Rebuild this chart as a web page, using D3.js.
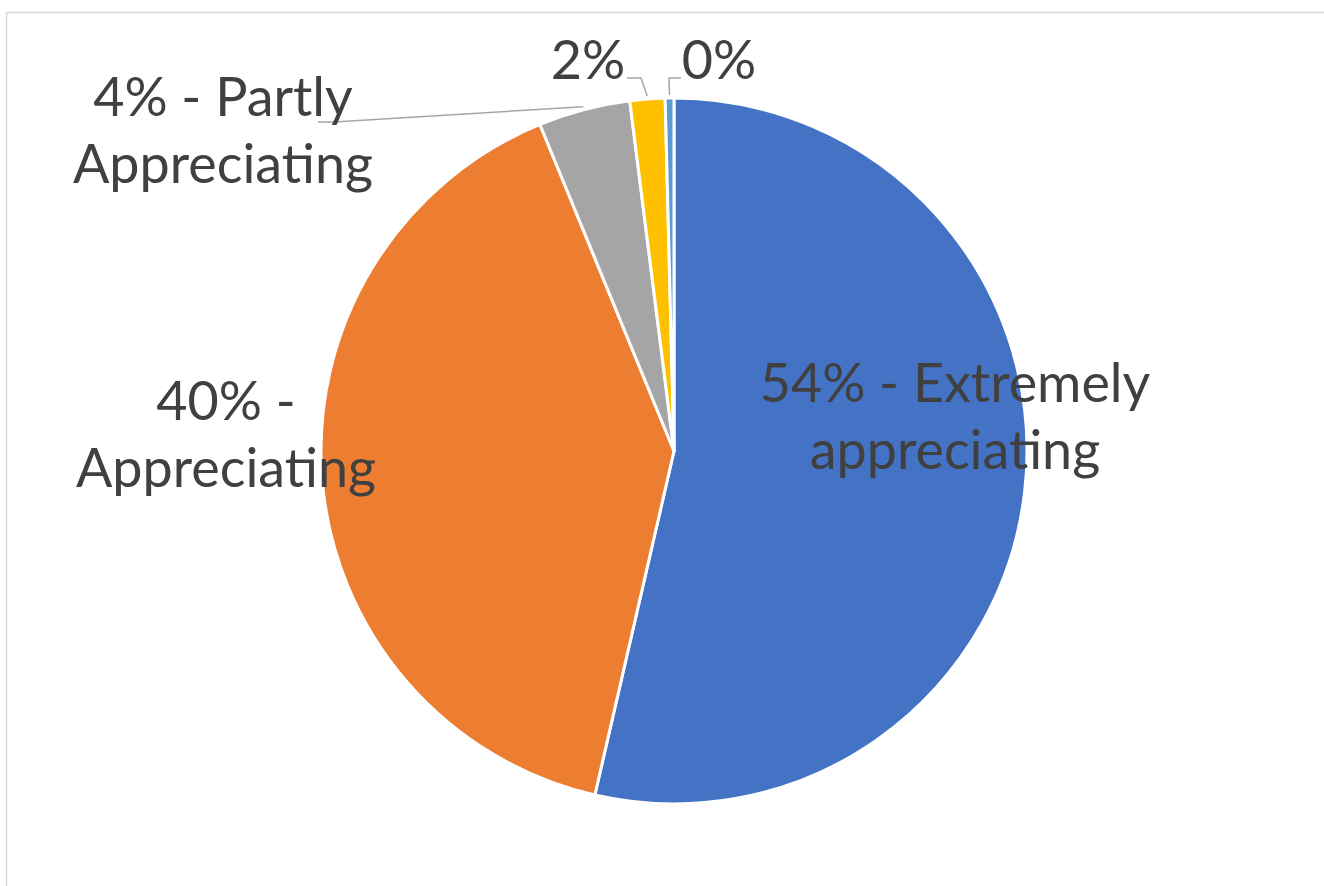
<!DOCTYPE html>
<html>
<head>
<meta charset="utf-8">
<script src="https://cdn.jsdelivr.net/npm/d3@7"></script>
<style>
  html, body { margin: 0; padding: 0; background: #ffffff; }
  svg { display: block; }
</style>
</head>
<body>
<svg id="chart" width="1324" height="886"></svg>
<script>
// ---- data ----
const categories = ["Extremely appreciating", "Appreciating", "Partly Appreciating", "Neutral", "Not appreciating"];
const values = [53.6, 40.2, 4.2, 1.6, 0.4];
const percentLabels = ["54%", "40%", "4%", "2%", "0%"];
const labelLines = [
  ["54% - Extremely", "appreciating"],
  ["40% -", "Appreciating"],
  ["4% - Partly", "Appreciating"],
  ["2%"],
  ["0%"]
];
const colors = ["#4472C4", "#ED7D31", "#A5A5A5", "#FFC000", "#5B9BD5"];

// ---- layout ----
const W = 1324, H = 886;
const cx = 674, cy = 451, R = 353;
const fontFamily = "Lato, 'Open Sans', sans-serif";
const lineGap = 67;
// label anchor (center x, first baseline) per slice
const labelAnchors = [
  { x: 955, y: 402 },
  { x: 226, y: 420 },
  { x: 223, y: 116 },
  { x: 588, y: 79 },
  { x: 719, y: 79 }
];
// leader line start points on the label side (null = no leader)
const leaderStarts = [
  null,
  null,
  [[318, 122], [334, 122]],
  [[627, 78], [641, 78]],
  [[681, 78], [669, 78]]
];

const svg = d3.select("#chart");

// chart border
svg.append("rect")
  .attr("x", 6.5).attr("y", 12.5)
  .attr("width", W + 20).attr("height", H + 20)
  .attr("fill", "#ffffff")
  .attr("stroke", "#d9d9d9")
  .attr("stroke-width", 1.5);

const pie = d3.pie().sort(null).value(d => d);
const arcs = pie(values);
const arc = d3.arc().innerRadius(0).outerRadius(R);

const g = svg.append("g").attr("transform", `translate(${cx},${cy})`);
g.selectAll("path.slice")
  .data(arcs)
  .enter().append("path")
  .attr("class", "slice")
  .attr("d", arc)
  .attr("fill", (d, i) => colors[i])
  .attr("stroke", "#ffffff")
  .attr("stroke-width", 3)
  .attr("stroke-linejoin", "round");

// leader lines
const leaderArc = d3.arc().innerRadius(R + 3).outerRadius(R + 3);
arcs.forEach((d, i) => {
  if (!leaderStarts[i]) return;
  const c = leaderArc.centroid(d);
  const pts = leaderStarts[i].concat([[c[0] + cx, c[1] + cy]]);
  svg.append("path")
    .attr("d", d3.line()(pts))
    .attr("fill", "none")
    .attr("stroke", "#a6a6a6")
    .attr("stroke-width", 1.5);
});

// fit font size so that "Appreciating" is ~300px wide
const probe = svg.append("text").attr("font-family", fontFamily).attr("font-size", 100).text("Appreciating");
const probeW = probe.node().getComputedTextLength();
probe.remove();
const fontSize = 100 * 300 / probeW;

// labels
const labels = svg.append("g").attr("font-family", fontFamily).attr("font-size", fontSize).attr("fill", "#404040");
labelLines.forEach((lines, i) => {
  const t = labels.append("text").attr("text-anchor", "middle");
  lines.forEach((ln, j) => {
    t.append("tspan")
      .attr("x", labelAnchors[i].x)
      .attr("y", labelAnchors[i].y + j * lineGap)
      .text(ln);
  });
});
</script>
</body>
</html>
